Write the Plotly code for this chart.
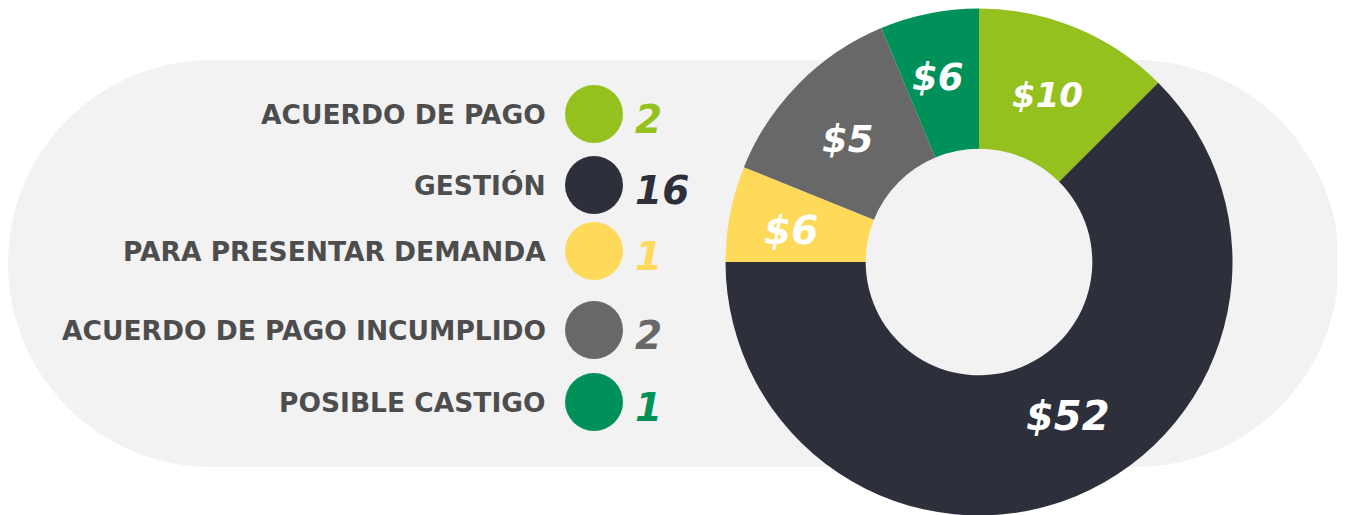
import plotly.graph_objects as go

# ---------------- data ----------------
categories = ["ACUERDO DE PAGO", "GESTIÓN", "PARA PRESENTAR DEMANDA",
              "ACUERDO DE PAGO INCUMPLIDO", "POSIBLE CASTIGO"]
counts = [2, 16, 1, 2, 1]
amount_labels = ["$10", "$52", "$6", "$5", "$6"]
# slice shares (percent of the ring)
slice_share = [12.5, 62.5, 6.1, 12.6, 6.3]
colors = ["#95c11f", "#2d2f3b", "#ffd95a", "#686868", "#00915a"]

# ---------------- layout constants (pixels, figure space) ----------------
W, H = 1345, 515
row_y = [106, 177, 243, 322, 394]
circle_x = 586
label_right = 540
count_left = 625
text_gray = "#4d4d4d"
font_family = "DejaVu Sans"
# donut geometry
cx, cy, R = 971, 254, 253.5
hole_ratio = 0.447
# amount label anchor points and sizes (pixels)
amount_pos = [(1039, 87), (1060, 408), (783, 222), (840, 131), (930, 69)]
amount_size = [34, 40, 39, 37, 37]

fig = go.Figure()

# legend dots
fig.add_trace(go.Scatter(
    x=[circle_x] * len(categories), y=row_y, mode="markers",
    marker=dict(size=58, color=colors, line=dict(width=0)),
    hoverinfo="skip", showlegend=False,
))

# donut
fig.add_trace(go.Pie(
    values=slice_share, labels=categories, text=amount_labels,
    textinfo="none",
    marker=dict(colors=colors, line=dict(width=0)),
    hole=hole_ratio, sort=False, direction="clockwise", rotation=0,
    domain=dict(x=[(cx - R) / W, (cx + R) / W],
                y=[(H - cy - R) / H, min(1.0, (H - cy + R) / H)]),
    showlegend=False, hoverinfo="label+text",
))

annotations = []
for cat, cnt, col, y in zip(categories, counts, colors, row_y):
    annotations.append(dict(
        x=label_right, y=y, xref="x", yref="y", text=cat, showarrow=False,
        xanchor="right", yanchor="middle",
        font=dict(family=font_family, size=26.5, color=text_gray, weight="bold"),
    ))
    annotations.append(dict(
        x=count_left, y=y + 5, xref="x", yref="y", text=str(cnt), showarrow=False,
        xanchor="left", yanchor="middle",
        font=dict(family=font_family, size=39, color=col, weight="bold", style="italic"),
    ))

for lab, (px, py), sz in zip(amount_labels, amount_pos, amount_size):
    annotations.append(dict(
        x=px, y=py, xref="x", yref="y", text=lab, showarrow=False,
        xanchor="center", yanchor="middle",
        font=dict(family=font_family, size=sz, color="white", weight="bold", style="italic"),
    ))

# rounded background band
bx0, bx1, by0, by1 = 0, 1331, 52, 459
r = (by1 - by0) / 2
band = "#f2f2f2"
shapes = [
    dict(type="rect", xref="x", yref="y", x0=bx0 + r, x1=bx1 - r, y0=by0, y1=by1,
         fillcolor=band, line=dict(width=0), layer="below"),
    dict(type="circle", xref="x", yref="y", x0=bx0, x1=bx0 + 2 * r, y0=by0, y1=by1,
         fillcolor=band, line=dict(width=0), layer="below"),
    dict(type="circle", xref="x", yref="y", x0=bx1 - 2 * r, x1=bx1, y0=by0, y1=by1,
         fillcolor=band, line=dict(width=0), layer="below"),
]

fig.update_layout(
    width=W, height=H,
    margin=dict(l=0, r=0, t=0, b=0),
    paper_bgcolor="white", plot_bgcolor="rgba(0,0,0,0)",
    xaxis=dict(range=[0, W], visible=False, fixedrange=True),
    yaxis=dict(range=[H, 0], visible=False, fixedrange=True),
    shapes=shapes, annotations=annotations,
    showlegend=False,
)

fig.write_html("out.html")
